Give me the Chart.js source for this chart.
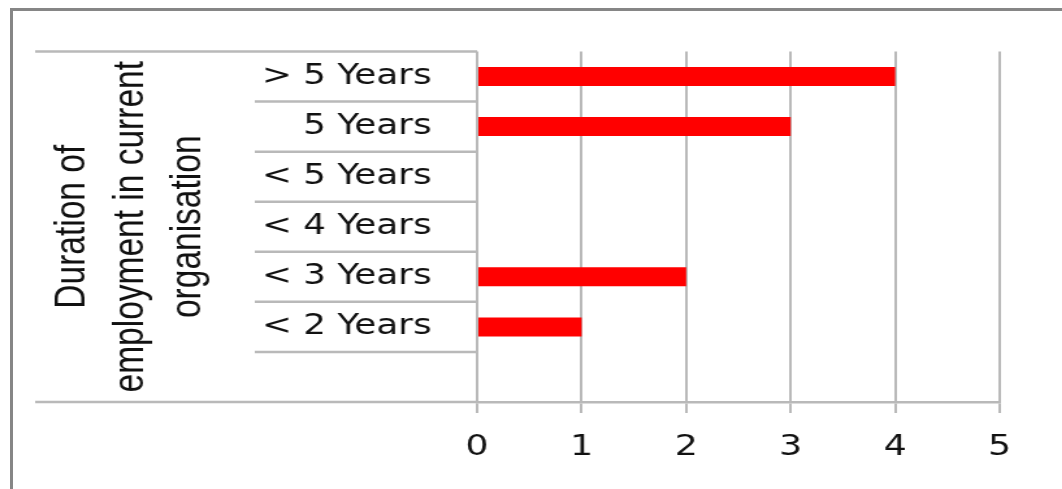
<!DOCTYPE html>
<html>
<head>
<meta charset="utf-8">
<script src="https://cdn.jsdelivr.net/npm/chart.js@4/dist/chart.umd.min.js"></script>
<style>
  html, body { margin: 0; padding: 0; background: #fff; overflow: hidden; }
  #wrap { position: relative; width: 1062px; height: 489px; overflow: hidden; }
  /* the chart is drawn narrow and stretched sideways */
  #chart { position: absolute; left: 0; top: 0; width: 817px; height: 489px;
           transform: scaleX(1.3); transform-origin: 0 0; }
  #frame { position: absolute; left: 10px; top: 8px; width: 1100px; height: 600px;
           border-left: 3px solid #868686; border-top: 3px solid #868686; }
</style>
</head>
<body>
<div id="wrap">
  <canvas id="chart" width="817" height="489"></canvas>
  <div id="frame"></div>
</div>
<script>
// categories (top to bottom), last one is the empty row under the bars
let labels = ['> 5 Years', '5 Years', '< 5 Years', '< 4 Years', '< 3 Years', '< 2 Years', ''];
let counts = [4, 3, 0, 0, 2, 1, null];
let xMin = 0, xMax = 5, xStep = 1;
let groupTitle = ['Duration of', 'employment in current', 'organisation'];

let lineColor = '#b9b9b9';

// lines of the two-level category axis + the rotated group title
let categoryAxis = {
  id: 'categoryAxis',
  afterDraw(chart) {
    let ctx = chart.ctx;
    let y = chart.scales.y;
    let area = chart.chartArea;
    let half = (y.getPixelForValue(1) - y.getPixelForValue(0)) / 2;
    ctx.save();
    ctx.strokeStyle = lineColor;
    ctx.lineWidth = 2.5;
    for (let i = 0; i <= labels.length; i++) {
      let py = y.getPixelForValue(i) - half;
      let from = (i == 0 || i == labels.length) ? 27 : 196;
      ctx.beginPath();
      ctx.moveTo(from, py);
      ctx.lineTo(area.left, py);
      ctx.stroke();
    }
    // group title, three lines turned on the side
    let cy = (area.top + area.bottom) / 2;
    ctx.fillStyle = '#111';
    ctx.font = '33.5px "Liberation Sans", Arial, sans-serif';
    ctx.textAlign = 'center';
    ctx.textBaseline = 'alphabetic';
    for (let i = 0; i < groupTitle.length; i++) {
      ctx.save();
      ctx.translate(65 + 44.5 * i, cy);
      ctx.rotate(-Math.PI / 2);
      ctx.fillText(groupTitle[i], 0, 0);
      ctx.restore();
    }
    ctx.restore();
  }
};

let myChart = new Chart(document.getElementById('chart'), {
  type: 'bar',
  data: {
    labels: labels,
    datasets: [{
      label: 'Duration',
      data: counts,
      backgroundColor: '#ff0000',
      borderWidth: 0,
      categoryPercentage: 1,
      barPercentage: 0.38
    }]
  },
  options: {
    indexAxis: 'y',
    responsive: false,
    animation: false,
    devicePixelRatio: 1,
    layout: { padding: { top: 49, right: 48, left: 0, bottom: 0 } },
    plugins: {
      legend: { display: false },
      tooltip: { enabled: false }
    },
    scales: {
      x: {
        min: xMin,
        max: xMax,
        ticks: {
          stepSize: xStep,
          padding: 18,
          color: '#111',
          font: { family: '"DejaVu Sans", Verdana, sans-serif', size: 28 }
        },
        grid: { color: lineColor, lineWidth: 2, tickLength: 11, tickColor: lineColor, tickWidth: 2 },
        border: { display: true, color: lineColor, width: 2.5 },
        afterFit(scale) { scale.height = 87; }
      },
      y: {
        ticks: {
          padding: 35,
          color: '#111',
          font: { family: '"DejaVu Sans", Verdana, sans-serif', size: 27.5 }
        },
        grid: { display: false, drawTicks: false },
        border: { display: false },
        afterFit(scale) { scale.width = 367; }
      }
    }
  },
  plugins: [categoryAxis]
});
</script>
</body>
</html>
